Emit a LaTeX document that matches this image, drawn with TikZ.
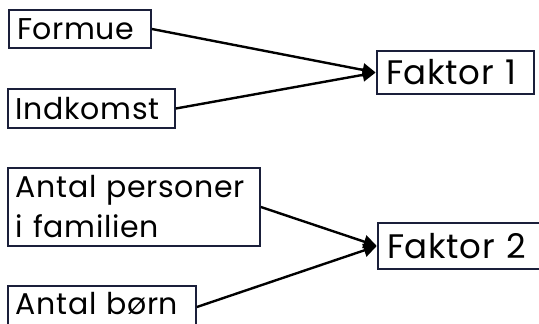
\documentclass[tikz,border=0pt]{standalone}
\usepackage{fontspec}
\setmainfont{Poppins}[LetterSpace=2]
\usetikzlibrary{arrows.meta}
\definecolor{boxline}{HTML}{1A1F3A}
\hyphenpenalty=10000
\exhyphenpenalty=10000
\newcommand{\myboxfont}{\fontsize{30}{40}\selectfont}
\newcommand{\mybigfont}{\fontsize{34}{40}\selectfont}
\begin{document}
\begin{tikzpicture}[x=1pt,y=1pt,
  varbox/.style={draw=boxline, line width=1.8pt, inner xsep=8pt, inner ysep=0pt,
    minimum height=#1, anchor=center, align=left, font=\myboxfont},
  factorbox/.style={varbox=#1, inner xsep=9pt, font=\mybigfont},
  conn/.style={line width=2.4pt, -{Triangle[length=13pt,width=13pt]}, shorten >=0.5pt}]
\useasboundingbox (0,0) rectangle (539,324);
\clip (0,0) rectangle (539,324);
\node[varbox=38pt, text width=126pt] (formue) at (80,295) {Formue};
\node[varbox=39pt, text width=151pt] (indkomst) at (91.5,215.5) {Indkomst};
\node[factorbox=43pt, text width=139pt] (f1) at (455.5,251.5) {Faktor 1};
\node[varbox=78pt, text width=236pt] (antal) at (134,117) {Antal personer\\i familien};
\node[varbox=0pt, text height=29pt, text depth=13pt, text width=172pt] (born) at (102,17) {Antal børn};
\node[factorbox=46pt, text width=144pt] (f2) at (459,78) {Faktor 2};
\draw[conn] (formue.east) -- (f1.west);
\draw[conn] (indkomst.east) -- (f1.west);
\draw[conn] (antal.east) -- (f2.west);
\draw[conn] (born.east) -- (f2.west);
\end{tikzpicture}
\end{document}
